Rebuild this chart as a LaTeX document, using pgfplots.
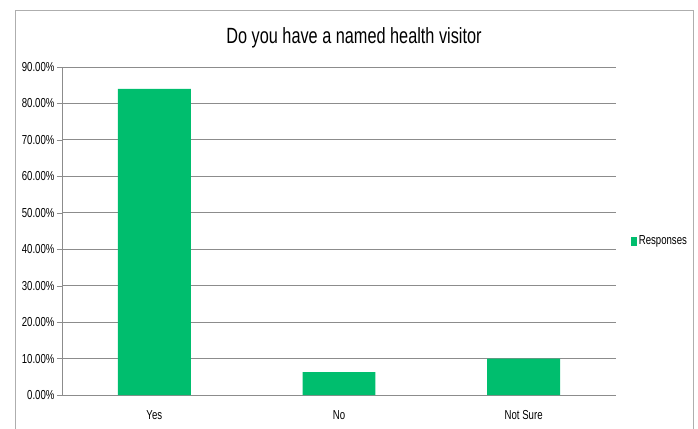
\documentclass[border=0pt]{standalone}
\usepackage{fontspec}
\setmainfont{Liberation Sans}[FakeStretch=0.74]
\usepackage{pgfplots}
\pgfplotsset{compat=1.18}
\definecolor{barg}{RGB}{0,190,110}
\definecolor{gridg}{RGB}{140,140,140}
\begin{document}
\begin{tikzpicture}[x=1pt,y=1pt]
\useasboundingbox (0,0) rectangle (698,428);
\draw[gridg!70] (15,-5) rectangle (693,418);
\node[font=\fontsize{22}{26}\selectfont] at (354,390) {Do you have a named health visitor};
\begin{axis}[
  at={(62pt,33pt)}, anchor=south west,
  scale only axis, width=554pt, height=328pt,
  xmin=-0.5, xmax=2.5, ymin=0, ymax=90,
  ytick={0,10,...,90},
  yticklabel={\pgfmathprintnumber[fixed,fixed zerofill,precision=2]{\tick}\%},
  /pgf/number format/assume math mode=true,
  xtick={0,1,2}, xticklabels={Yes,No,Not Sure},
  major x tick style={draw=none},
  extra x ticks={-0.5,0.5,1.5,2.5}, extra x tick labels={},
  extra x tick style={major tick length=5pt, tick align=outside, tick style={gridg}},
  axis x line*=bottom, axis y line*=left,
  axis line style={gridg, line width=0.8pt},
  ymajorgrids, grid style={gridg, line width=0.8pt},
  y tick style={gridg}, tick align=outside, major tick length=5pt,
  tick label style={font=\fontsize{13}{15}\selectfont, text=black},
  yticklabel style={xshift=1pt},
  xticklabel style={yshift=-7pt},
  ylabel={}, 
  legend style={at={(1.021,0.4695)}, anchor=west, draw=none, fill=none, font=\fontsize{13}{15}\selectfont, legend cell align=left},
  legend image code/.code={\fill[#1] (0pt,-4.5pt) rectangle (6pt,4.5pt);},
]
\addplot[ybar, bar width=0.395, fill=barg, draw=none] coordinates {(0,84.0) (1,6.3) (2,10.0)};
\addlegendentry{Responses}
\end{axis}
\end{tikzpicture}
\end{document}
